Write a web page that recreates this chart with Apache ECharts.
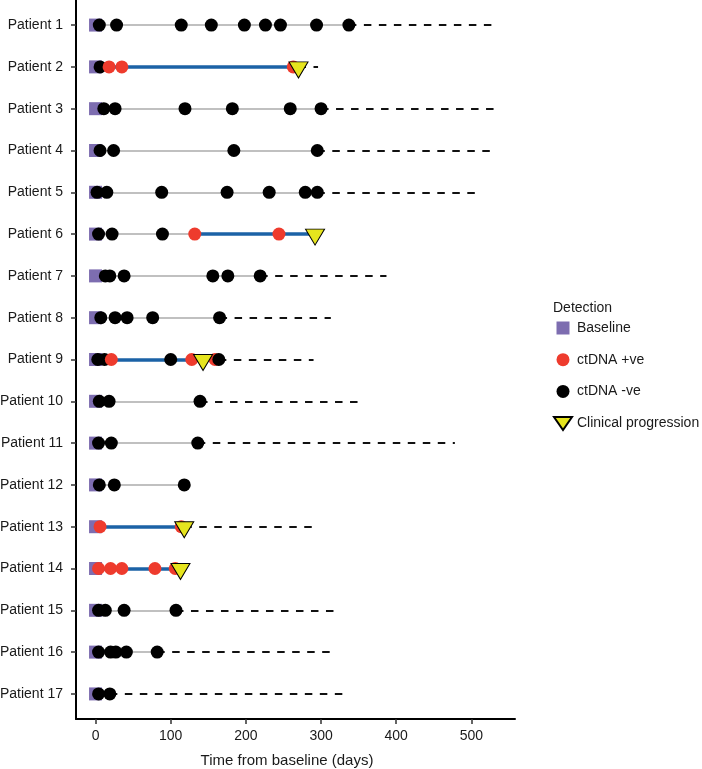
<!DOCTYPE html>
<html>
<head>
<meta charset="utf-8">
<script src="https://cdn.jsdelivr.net/npm/echarts@6/dist/echarts.min.js"></script>
<style>
html,body{margin:0;padding:0;background:#fff;}
#chart{width:702px;height:769px;}
</style>
</head>
<body>
<div id="chart"></div>
<script>
const patients = ['Patient 1','Patient 2','Patient 3','Patient 4','Patient 5','Patient 6','Patient 7','Patient 8','Patient 9','Patient 10','Patient 11','Patient 12','Patient 13','Patient 14','Patient 15','Patient 16','Patient 17'];
const baselineDay = 0;
const negativeDays = [
  [5, 28, 114, 154, 198, 226, 246, 294, 337],
  [6],
  [11, 26, 119, 182, 259, 300],
  [6, 24, 184, 295],
  [2, 15, 88, 175, 231, 279, 295],
  [4, 22, 89],
  [13, 19, 38, 156, 176, 219],
  [7, 26, 42, 76, 165],
  [3, 12, 100, 164],
  [5, 18, 139],
  [4, 21, 136],
  [5, 25, 118],
  [],
  [],
  [4, 13, 38, 107],
  [4, 20, 27, 41, 82],
  [4, 19]
];
const positiveDays = [
  [],
  [18, 35, 263],
  [],
  [],
  [],
  [132, 244],
  [],
  [],
  [21, 128, 159],
  [],
  [],
  [],
  [6, 114],
  [4, 20, 35, 79, 106],
  [],
  [],
  []
];
const progressionDays = [null, 270, null, null, null, 292, null, null, 143, null, null, null, 118, 113, null, null, null];
const followUpEndDays = [530, 296, 532, 526, 511, null, 387, 313, 290, 356, 478, null, 294, null, 321, 320, 336];
const xTicks = [0, 100, 200, 300, 400, 500];

const COL = {
  baseline: '#7d6db0',
  pos: '#ee3b2d',
  neg: '#000000',
  blue: '#1b62a6',
  grey: '#c0c0c0',
  prog: '#e6e41e',
  text: '#1a1a1a'
};
const FONT = '"Liberation Sans", Arial, Helvetica, sans-serif';

const greyLines = [], blueLines = [], dashLines = [], baseline = [], samples = [], progression = [];
patients.forEach((p, i) => {
  const y = i + 1;
  const all = negativeDays[i].map(d => ({d, pos: false})).concat(positiveDays[i].map(d => ({d, pos: true})));
  all.sort((a, b) => a.d - b.d);
  const last = all.length ? all[all.length - 1].d : baselineDay;
  greyLines.push({coords: [[baselineDay, y], [last, y]]});
  const prog = progressionDays[i];
  if (prog !== null && positiveDays[i].length) {
    blueLines.push({coords: [[Math.min.apply(null, positiveDays[i]), y], [prog, y]]});
  }
  const end = followUpEndDays[i];
  if (end !== null) {
    const start = prog !== null ? Math.max(prog, last) : last;
    dashLines.push({coords: [[start, y], [end, y]]});
  }
  baseline.push([baselineDay, y]);
  all.forEach(s => samples.push({value: [s.d, y], itemStyle: {color: s.pos ? COL.pos : COL.neg}}));
  if (prog !== null) progression.push([prog, y]);
});

const triPath = 'path://M0,0L19,0L9.5,16Z';

const chart = echarts.init(document.getElementById('chart'), null, {renderer: 'canvas'});
chart.setOption({
  animation: false,
  backgroundColor: '#ffffff',
  textStyle: {fontFamily: FONT},
  title: {
    text: 'Detection', left: 553, top: 301, padding: 0,
    textStyle: {fontFamily: FONT, fontSize: 14, fontWeight: 'normal', color: COL.text}
  },
  legend: {
    orient: 'vertical', left: 553, top: 321, padding: 0,
    itemWidth: 18, itemHeight: 13, itemGap: 17.7,
    selectedMode: false,
    textStyle: {fontFamily: FONT, fontSize: 14, color: COL.text},
    data: [
      {name: 'Baseline', icon: 'path://M0,0h10v10h-10Z'},
      {name: 'ctDNA +ve', icon: 'circle'},
      {name: 'ctDNA -ve', icon: 'circle'},
      {name: 'Clinical progression', icon: 'path://M0,0L18,0L9,13Z'}
    ]
  },
  grid: {left: 76, right: 187, top: 0, bottom: 50, containLabel: false, outerBoundsMode: 'none'},
  xAxis: {
    type: 'value', min: -26, max: 558,
    name: 'Time from baseline (days)', nameLocation: 'middle', nameGap: 34,
    nameTextStyle: {fontFamily: FONT, fontSize: 15, color: COL.text, padding: [0, 17, 0, 0]},
    axisLine: {show: true, onZero: false, lineStyle: {color: '#000', width: 2}},
    axisTick: {show: true, length: 5, lineStyle: {color: '#333', width: 1.5}, customValues: xTicks},
    axisLabel: {fontFamily: FONT, fontSize: 14, color: COL.text, margin: 10, customValues: xTicks},
    splitLine: {show: false}
  },
  yAxis: {
    type: 'value', inverse: true, min: 0.4, max: 17.6,
    axisLine: {show: true, onZero: false, lineStyle: {color: '#000', width: 2}},
    axisTick: {show: true, length: 5, lineStyle: {color: '#333', width: 1.5}, customValues: patients.map((p, i) => i + 1)},
    axisLabel: {
      fontFamily: FONT, fontSize: 14, color: COL.text, margin: 13,
      customValues: patients.map((p, i) => i + 1),
      formatter: v => patients[Math.round(v) - 1] || ''
    },
    splitLine: {show: false}
  },
  series: [
    {type: 'lines', coordinateSystem: 'cartesian2d', silent: true, z: 1,
     lineStyle: {color: COL.grey, width: 2, opacity: 1}, data: greyLines},
    {type: 'lines', coordinateSystem: 'cartesian2d', silent: true, z: 2,
     lineStyle: {color: '#111', width: 2, type: [7.5, 7.5], opacity: 1}, data: dashLines},
    {type: 'lines', coordinateSystem: 'cartesian2d', silent: true, z: 2,
     lineStyle: {color: COL.blue, width: 3.5, opacity: 1}, data: blueLines},
    {name: 'Baseline', type: 'scatter', symbol: 'rect', symbolSize: 13, z: 3,
     itemStyle: {color: COL.baseline, opacity: 1}, data: baseline},
    {name: 'Samples', type: 'scatter', symbol: 'circle', symbolSize: 13, z: 4,
     itemStyle: {opacity: 1}, data: samples},
    {name: 'ctDNA +ve', type: 'scatter', symbol: 'circle', itemStyle: {color: COL.pos, opacity: 1}, data: []},
    {name: 'ctDNA -ve', type: 'scatter', symbol: 'circle', itemStyle: {color: COL.neg, opacity: 1}, data: []},
    {name: 'Clinical progression', type: 'scatter', symbol: triPath, symbolSize: [19, 16], symbolOffset: [0, 3], z: 5,
     itemStyle: {color: COL.prog, borderColor: '#000', borderWidth: 1, opacity: 1}, data: progression}
  ]
});
</script>
</body>
</html>
